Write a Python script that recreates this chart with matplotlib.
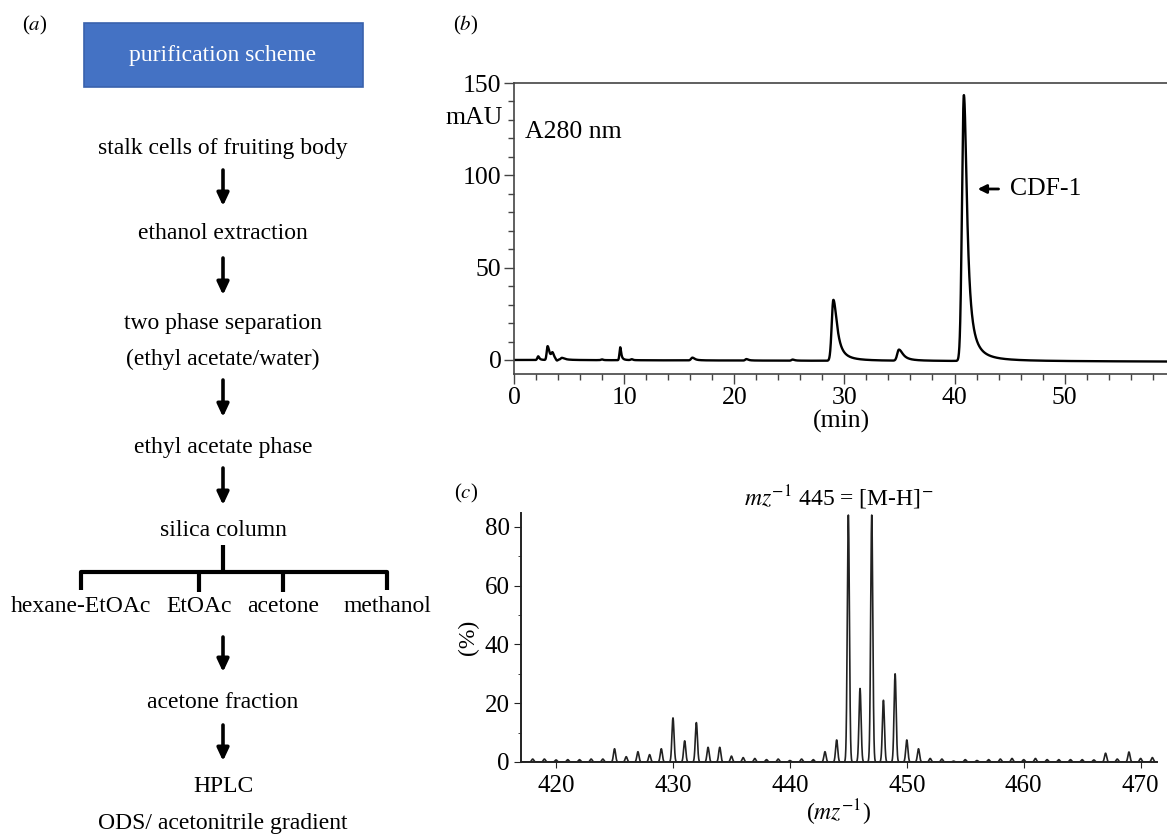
import numpy as np
import matplotlib
matplotlib.use("Agg")
from matplotlib import pyplot as plt
from matplotlib.ticker import MultipleLocator

plt.rcParams["font.family"] = ["Liberation Serif", "DejaVu Serif"]
plt.rcParams["mathtext.fontset"] = "stix"

W, H = 1167, 834

# (b) HPLC peaks: retention time (min), height (mAU), left sigma, right half width
hplc_time = [2.2, 3.05, 3.5, 3.9, 4.35, 8.0, 9.65, 10.7, 16.2, 21.1, 25.3, 29.0, 34.95, 40.85]
hplc_height = [2.0, 7.5, 3.0, -1.0, 1.0, 0.4, 7.0, 0.5, 1.5, 0.8, 0.6, 33.0, 6.0, 144.0]
hplc_left = [0.08, 0.08, 0.1, 0.1, 0.1, 0.1, 0.07, 0.1, 0.12, 0.1, 0.1, 0.15, 0.15, 0.17]
hplc_right = [0.12, 0.2, 0.15, 0.1, 0.3, 0.1, 0.1, 0.1, 0.25, 0.2, 0.2, 0.4, 0.45, 0.34]
baseline_drift = -0.9  # mAU at end of run

# (c) mass spectrum: m/z and relative intensity (%)
mz = list(range(418, 472))
intensity = [1.0, 1.0, 0.7, 0.8, 0.8, 1.0, 1.0, 4.5, 1.8, 3.5,
             2.5, 4.5, 15.0, 7.2, 13.4, 5.0, 5.0, 2.0, 1.5, 1.2,
             0.8, 1.0, 0.5, 1.0, 0.8, 3.5, 7.5, 84.0, 25.0, 84.0,
             21.0, 30.0, 7.5, 4.5, 1.2, 1.0, 0.3, 0.8, 0.5, 0.8,
             1.0, 1.2, 0.8, 1.2, 0.8, 0.8, 0.8, 0.8, 0.7, 3.0,
             1.0, 3.4, 1.2, 1.5]

# (a) purification steps
steps = ["stalk cells of fruiting body", "ethanol extraction",
         "two phase separation", "(ethyl acetate/water)",
         "ethyl acetate phase", "silica column",
         "acetone fraction", "HPLC", "ODS/ acetonitrile gradient"]
fractions = ["hexane-EtOAc", "EtOAc", "acetone", "methanol"]

fig = plt.figure(figsize=(W / 100, H / 100), dpi=100)

# ---------- panel a: flow scheme in pixel coordinates ----------
ax0 = fig.add_axes([0, 0, 1, 1])
ax0.set_xlim(0, W)
ax0.set_ylim(H, 0)
ax0.set_axis_off()
ax0.patch.set_visible(False)

fs = 17
cx = 223
ax0.text(35, 25, "($a$)", fontsize=15, ha="center", va="center")
ax0.add_patch(plt.Rectangle((84, 23), 279, 64, facecolor="#4472C4",
                            edgecolor="#3A62AD", lw=1.2))
ax0.text(cx, 55, "purification scheme", color="white", fontsize=fs,
         ha="center", va="center")

step_y = [148, 233, 323, 359, 447, 531, 703, 787, 823]
for s, y in zip(steps, step_y):
    ax0.text(cx, y, s, fontsize=fs, ha="center", va="center")

arrow_spans = [(170, 206), (258, 295), (380, 417), (468, 505), (637, 672), (725, 761)]
for y0, y1 in arrow_spans:
    ax0.annotate("", xy=(cx, y1), xytext=(cx, y0),
                 arrowprops=dict(arrowstyle="-|>,head_width=0.35,head_length=0.75",
                                 lw=2.6, color="black", shrinkA=0, shrinkB=0))

frac_x = [81, 199, 283, 387]
ax0.plot([cx, cx], [545, 572], color="black", lw=3, solid_capstyle="butt")
ax0.plot([frac_x[0], frac_x[0], frac_x[-1], frac_x[-1]], [590, 572, 572, 590],
         color="black", lw=3, solid_joinstyle="round", solid_capstyle="butt")
for x in frac_x[1:3]:
    ax0.plot([x, x], [572, 592], color="black", lw=3, solid_capstyle="butt")
for f, x in zip(fractions, frac_x):
    ax0.text(x, 607, f, fontsize=fs, ha="center", va="center")

# ---------- panel b: HPLC chromatogram ----------
tfs = 18.5
ax1 = fig.add_axes([514 / W, 1 - 374 / H, 1 - 514 / W + 0.001, (374 - 83) / H])
t = np.linspace(0, 59.4, 6000)
sig = baseline_drift * t / 59.4
for c, h, sl, sr in zip(hplc_time, hplc_height, hplc_left, hplc_right):
    d = t - c
    sig += np.where(d < 0, h * np.exp(-0.5 * (d / sl) ** 2), h / (1 + (d / sr) ** 2))
ax1.plot(t, sig, color="black", lw=1.7)
ax1.set_xlim(0, 59.4)
ax1.set_ylim(-7.6, 150)
ax1.spines["right"].set_visible(False)
for sp in ax1.spines.values():
    sp.set_color("#444444")
    sp.set_linewidth(1.2)
ax1.xaxis.set_major_locator(MultipleLocator(10))
ax1.xaxis.set_minor_locator(MultipleLocator(2))
ax1.yaxis.set_major_locator(MultipleLocator(50))
ax1.yaxis.set_minor_locator(MultipleLocator(10))
ax1.tick_params(which="both", direction="out", color="#444444", labelsize=tfs, width=1)
ax1.tick_params(which="major", length=7, pad=2)
ax1.tick_params(which="minor", length=4)
ax1.set_xticks([0, 10, 20, 30, 40, 50])
ax1.set_xlabel("(min)", fontsize=tfs, labelpad=1)
ax1.text(-1.0, 131, "mAU", fontsize=tfs, ha="right", va="center")
ax1.text(1.0, 123.5, "A280 nm", fontsize=tfs, ha="left", va="center")
ax1.annotate("", xy=(42.1, 92.6), xytext=(44.0, 92.6),
             arrowprops=dict(arrowstyle="-|>,head_width=0.25,head_length=0.5",
                             lw=2, color="black", shrinkA=0, shrinkB=0))
ax1.text(45.0, 92.6, "CDF-1", fontsize=tfs, ha="left", va="center")
fig.text(466 / W, 1 - 25 / H, "($b$)", fontsize=15, ha="center", va="center")

# ---------- panel c: mass spectrum ----------
ax2 = fig.add_axes([521 / W, 1 - 762 / H, (1157 - 521) / W, (762 - 513) / H])
m = np.linspace(417.0, 471.4, 8000)
spec = np.zeros_like(m)
for c, h in zip(mz, intensity):
    spec += h * np.exp(-0.5 * ((m - c) / 0.09) ** 2)
ax2.plot(m, spec, color="#222222", lw=1.2)
ax2.set_xlim(417.0, 471.4)
ax2.set_ylim(0, 84.7)
ax2.spines["top"].set_visible(False)
ax2.spines["right"].set_visible(False)
for sp in ax2.spines.values():
    sp.set_color("#222222")
    sp.set_linewidth(1.4)
ax2.xaxis.set_major_locator(MultipleLocator(10))
ax2.yaxis.set_major_locator(MultipleLocator(20))
ax2.yaxis.set_minor_locator(MultipleLocator(10))
ax2.tick_params(which="both", direction="out", color="#222222", labelsize=18)
ax2.tick_params(axis="x", which="major", length=4, pad=5)
ax2.tick_params(axis="y", which="major", length=5, pad=3)
ax2.tick_params(axis="y", which="minor", length=2)
ax2.set_xlabel("($mz^{-1}$)", fontsize=17, labelpad=1)
ax2.set_ylabel("(%)", fontsize=17, labelpad=4)
ax2.set_title("$mz^{-1}$ 445 = [M-H]$^{-}$", fontsize=17, pad=5)
fig.text(466 / W, 1 - 493 / H, "($c$)", fontsize=15, ha="center", va="center")

fig.savefig("out.png", dpi=100)
